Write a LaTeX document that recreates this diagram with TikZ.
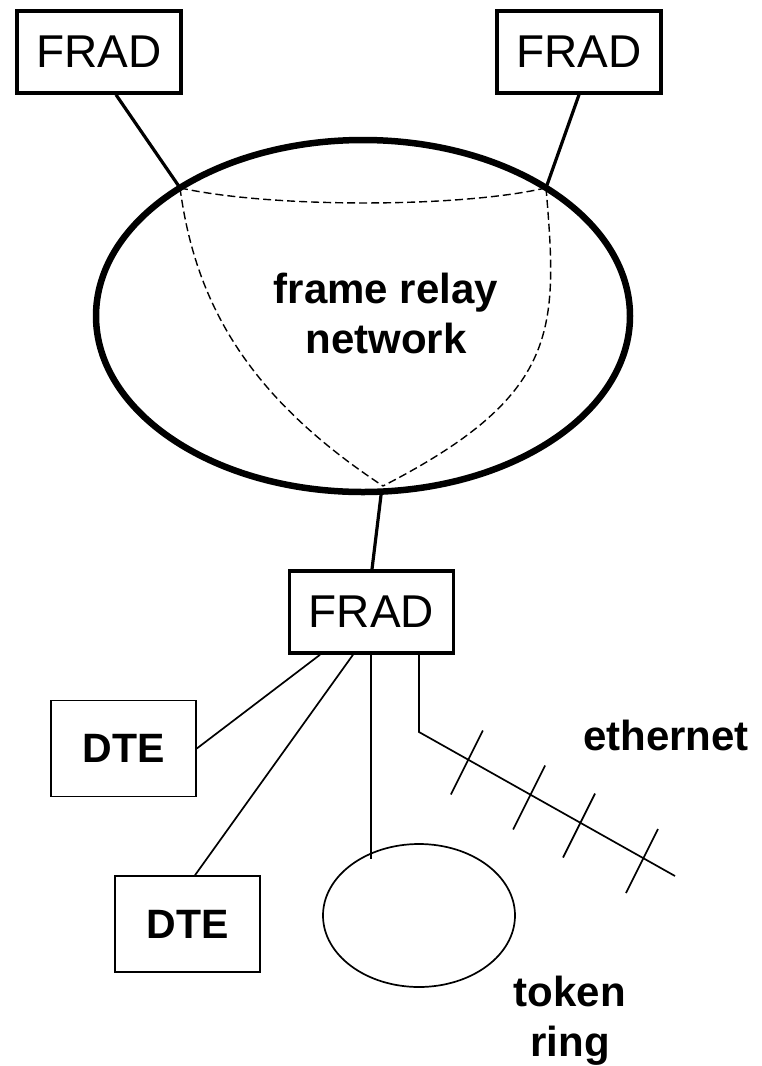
\documentclass[tikz,border=0pt]{standalone}
\usepackage{fontspec}
\setmainfont{Liberation Sans}
\usetikzlibrary{shapes.geometric,calc}
\begin{document}
\begin{tikzpicture}[x=1pt,y=-1pt,
  frad/.style={draw,line width=3.5pt,rectangle,minimum width=164pt,minimum height=82pt,inner sep=0pt,font=\fontsize{46}{50}\selectfont},
  dte/.style={draw,line width=1.6pt,rectangle,minimum width=145pt,minimum height=96pt,inner sep=0pt,font=\bfseries\fontsize{41}{50}\selectfont},
  lbl/.style={font=\bfseries\fontsize{42}{50}\selectfont,align=center,inner sep=0pt},
  heavy/.style={line width=3.2pt},
  fine/.style={line width=1.7pt},
  dashline/.style={line width=1.4pt,dash pattern=on 8pt off 4pt}
]
\useasboundingbox (0,0) rectangle (761,1066);

% frame relay network cloud
\node[ellipse,draw,line width=6.5pt,minimum width=534pt,minimum height=352pt,inner sep=0pt,outer sep=0pt] (net) at (363,316) {};
\node[lbl,anchor=base] (frtext) at (386,353) {frame relay\\network};

% FRADs
\node[frad] (fl) at (99,52) {FRAD};
\node[frad] (fr) at (579,52) {FRAD};
\node[frad] (frb) at (371.5,612) {FRAD};

% junction points on the cloud
\coordinate (jl) at (net.145.3);
\coordinate (jr) at (net.35);
\coordinate (jb) at (383,486);

\draw[heavy] ([xshift=17pt]fl.south) -- (jl);
\draw[heavy] (fr.south) -- (jr);
\draw[heavy] (net.276.8) -- ([xshift=0.5pt]frb.north);

% virtual circuits (dashed)
\draw[dashline] (jl) .. controls (270,208) and (460,208) .. (jr);
\draw[dashline] (jl) .. controls (195,300) and (245,395) .. (jb);
\draw[dashline] (jr) .. controls (558,330) and (560,395) .. (jb);

% DTEs
\node[dte] (dte1) at (123.5,748.5) {DTE};
\node[dte] (dte2) at (187.5,924) {DTE};
\draw[fine] ([xshift=-51.5pt]frb.south) -- (dte1.east);
\draw[fine] ([xshift=-18.5pt]frb.south) -- ([xshift=7.5pt]dte2.north);

% token ring
\node[ellipse,draw,fine,minimum width=192pt,minimum height=143pt,inner sep=0pt,outer sep=0pt] (ring) at (419,915.5) {};
\coordinate (rtap) at (371,859);
\draw[fine] (frb.south -| rtap) -- (rtap);
\node[lbl,anchor=base] (tok) at (570,1056) {token\\ring};

% ethernet
\coordinate (ebend) at (419,732);
\coordinate (eend) at (675,876);
\draw[fine] ([xshift=47.5pt]frb.south) -- (ebend) -- (eend);
\foreach \t in {0.191,0.434,0.629,0.875}
  \draw[fine] ($(ebend)!\t!(eend)+(15,-29)$) -- ++(-32,64);
\node[lbl,anchor=base] (eth) at (666,750) {ethernet};
\end{tikzpicture}
\end{document}
